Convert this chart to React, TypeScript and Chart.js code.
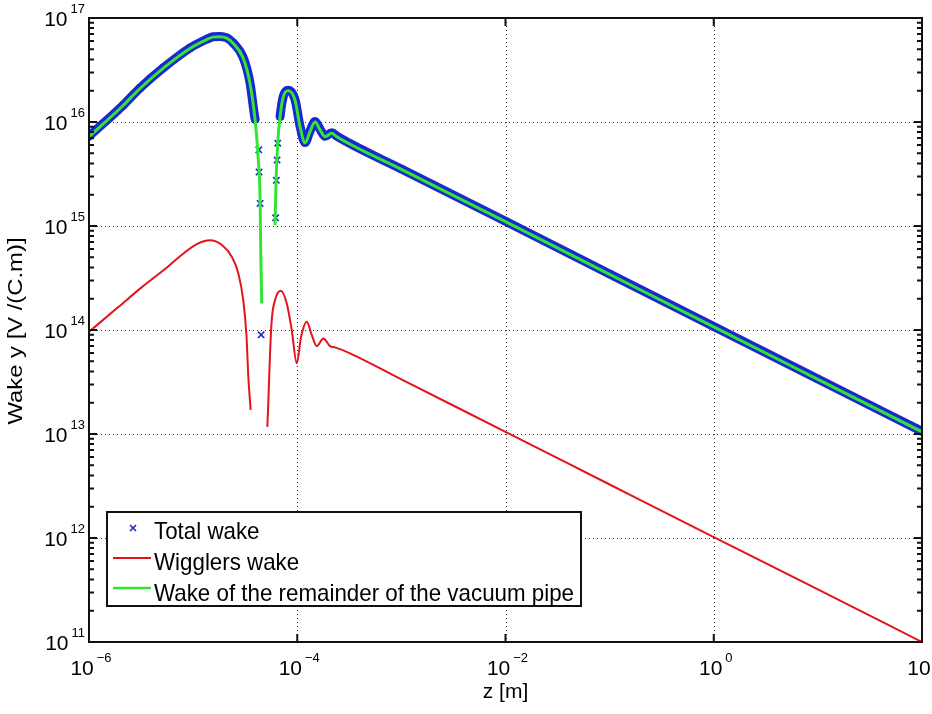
import React, { useEffect, useRef } from 'react';
import { Chart, registerables } from 'chart.js';

Chart.register(...registerables);

// ---- data (z in m, wake in V/(C.m)) ----
const zRemainder = [1.0e-6, 2.14e-6, 3.09e-6, 5.18e-6, 9.33e-6, 1.35e-5, 1.55e-5, 1.81e-5, 2.1e-5, 2.43e-5, 3.03e-5, 3.52e-5, 3.94e-5, 4.23e-5, 4.40e-5, 4.46e-5, 4.56e-5, 5.3e-5, 6.12e-5, 6.25e-5, 6.49e-5, 6.84e-5, 7.35e-5, 8.22e-5, 9.53e-5, 1.064e-4, 1.189e-4, 1.327e-4, 1.483e-4, 1.656e-4, 1.849e-4, 2.143e-4, 2.40e-4, 1e-3, 1e-2, 1e-1, 1, 10, 100];
const wRemainder = [7.2e15, 1.45e16, 2.1e16, 3.3e16, 5.1e16, 6.2e16, 6.55e16, 6.6e16, 6.4e16, 5.7e16, 4.1e16, 2.35e16, 1.05e16, 4.3e15, 1.78e15, 5.9e14, 1.8e14, null, 1.02e15, 2.57e15, 6.2e15, 1.12e16, 1.75e16, 2.0e16, 1.62e16, 9.0e15, 6.3e15, 8.1e15, 1.0e16, 8.4e15, 7.2e15, 7.8e15, 7.2e15, 3.5e15, 1.1e15, 3.43e14, 1.07e14, 3.35e13, 1.05e13];

const zWigglers = [1.0e-6, 1.91e-6, 3.20e-6, 5.37e-6, 8.36e-6, 1.12e-5, 1.45e-5, 1.88e-5, 2.35e-5, 2.72e-5, 3.03e-5, 3.25e-5, 3.39e-5, 3.57e-5, 4.4e-5, 5.16e-5, 5.27e-5, 5.48e-5, 5.69e-5, 6.12e-5, 6.93e-5, 7.92e-5, 8.85e-5, 9.89e-5, 1.089e-4, 1.233e-4, 1.377e-4, 1.538e-4, 1.782e-4, 2.065e-4, 2.307e-4, 3.21e-4, 1e-3, 1e-2, 1e-1, 1, 10, 100];
const wWigglers = [9.6e13, 1.66e14, 2.57e14, 3.86e14, 5.6e14, 6.8e14, 7.3e14, 6.6e14, 5.07e14, 3.5e14, 1.94e14, 9.0e13, 3.56e13, 1.7e13, null, 1.17e13, 1.97e13, 5.97e13, 1.25e14, 1.94e14, 2.39e14, 1.81e14, 1.0e14, 4.78e13, 8.6e13, 1.2e14, 8.96e13, 7.0e13, 8.3e13, 7.0e13, 6.8e13, 5.97e13, 3.35e13, 1.05e13, 3.27e12, 1.02e12, 3.2e11, 1.0e11];

const zTotal = [1.0e-6, 2.14e-6, 3.09e-6, 5.18e-6, 9.33e-6, 1.35e-5, 1.55e-5, 1.81e-5, 2.1e-5, 2.43e-5, 3.03e-5, 3.52e-5, 3.94e-5, 4.27e-5, 4.30e-5, 4.40e-5, 4.45e-5, 4.50e-5, 4.55e-5, 6.2e-5, 6.3e-5, 6.4e-5, 6.49e-5, 6.84e-5, 7.35e-5, 8.22e-5, 9.53e-5, 1.064e-4, 1.189e-4, 1.327e-4, 1.483e-4, 1.656e-4, 1.849e-4, 2.143e-4, 2.40e-4, 1e-3, 1e-2, 1e-1, 1, 10, 100];
const wTotal = [7.3e15, 1.46e16, 2.12e16, 3.32e16, 5.15e16, 6.25e16, 6.6e16, 6.65e16, 6.45e16, 5.75e16, 4.15e16, 2.37e16, 1.06e16, 5.4e15, 3.3e15, 1.65e15, null, 9.0e13, null, 1.2e15, 2.75e15, 4.3e15, 6.25e15, 1.13e16, 1.77e16, 2.02e16, 1.64e16, 9.1e15, 6.35e15, 8.2e15, 1.01e16, 8.5e15, 7.3e15, 7.9e15, 7.3e15, 3.53e15, 1.11e15, 3.46e14, 1.08e14, 3.38e13, 1.06e13];

const xTickExponents = [-6, -4, -2, 0, 2];
const yTickExponents = [11, 12, 13, 14, 15, 16, 17];
const xMin = 1e-6;
const xMax = 1e2;
const yMin = 1e11;
const yMax = 1e17;
const xTitle = 'z [m]';
const yTitle = 'Wake y [V /(C.m)]';
const legendLabels = ['Total wake', 'Wigglers wake', 'Wake of the remainder of the vacuum pipe'];

const BLUE = '#1a28d2';
const RED = '#e3141c';
const GREEN = '#30e632';
const FONT = '"Liberation Sans", Arial, Helvetica, sans-serif';

const toPoints = (zs: number[], ws: (number | null)[]) => zs.map((z, i) => ({ x: z, y: ws[i] }));

function drawPow(ctx: CanvasRenderingContext2D, exp: number, ax: number, cy: number, align: 'center' | 'right') {
  const base = '10';
  const sup = exp < 0 ? '\u2212' + Math.abs(exp) : String(exp);
  ctx.font = `21px ${FONT}`;
  const wb = ctx.measureText(base).width;
  ctx.font = `13px ${FONT}`;
  const ws = ctx.measureText(sup).width;
  const gap = 3;
  const total = wb + gap + ws;
  const left = align === 'center' ? ax - total / 2 : ax - total;
  ctx.textAlign = 'left';
  ctx.textBaseline = 'alphabetic';
  ctx.font = `21px ${FONT}`;
  ctx.fillText(base, left, cy + 7.5);
  ctx.font = `13px ${FONT}`;
  ctx.fillText(sup, left + wb + gap, cy - 5.5);
}

const decorPlugin = {
  id: 'matlabDecor',
  beforeDatasetsDraw(chart: any) {
    const { ctx, chartArea: a, scales } = chart;
    const x = scales.x;
    const y = scales.y;
    ctx.save();
    ctx.strokeStyle = '#333';
    ctx.lineWidth = 1;
    ctx.setLineDash([1, 3]);
    for (const e of xTickExponents) {
      const px = Math.round(x.getPixelForValue(Math.pow(10, e))) + 0.5;
      if (px <= a.left + 2 || px >= a.right - 2) continue;
      ctx.beginPath();
      ctx.moveTo(px, a.top);
      ctx.lineTo(px, a.bottom);
      ctx.stroke();
    }
    for (const e of yTickExponents) {
      const py = Math.round(y.getPixelForValue(Math.pow(10, e))) + 0.5;
      if (py <= a.top + 2 || py >= a.bottom - 2) continue;
      ctx.beginPath();
      ctx.moveTo(a.left, py);
      ctx.lineTo(a.right, py);
      ctx.stroke();
    }
    ctx.restore();
  },
  afterDraw(chart: any) {
    const { ctx, chartArea: a, scales } = chart;
    const x = scales.x;
    const y = scales.y;
    ctx.save();
    ctx.setLineDash([]);
    ctx.strokeStyle = '#111';
    ctx.fillStyle = '#111';
    // axes box
    ctx.lineWidth = 2;
    ctx.strokeRect(a.left, a.top, a.right - a.left, a.bottom - a.top);
    // ticks
    ctx.lineWidth = 2;
    const major = 8;
    const minor = 5;
    for (const e of xTickExponents) {
      const px = x.getPixelForValue(Math.pow(10, e));
      ctx.beginPath();
      ctx.moveTo(px, a.bottom);
      ctx.lineTo(px, a.bottom - major);
      ctx.moveTo(px, a.top);
      ctx.lineTo(px, a.top + major);
      ctx.stroke();
    }
    for (const e of yTickExponents) {
      const py = y.getPixelForValue(Math.pow(10, e));
      ctx.beginPath();
      ctx.moveTo(a.left, py);
      ctx.lineTo(a.left + major, py);
      ctx.moveTo(a.right, py);
      ctx.lineTo(a.right - major, py);
      ctx.stroke();
      if (e < yTickExponents[yTickExponents.length - 1]) {
        for (let m = 2; m <= 9; m++) {
          const pm = y.getPixelForValue(m * Math.pow(10, e));
          ctx.beginPath();
          ctx.moveTo(a.left, pm);
          ctx.lineTo(a.left + minor, pm);
          ctx.moveTo(a.right, pm);
          ctx.lineTo(a.right - minor, pm);
          ctx.stroke();
        }
      }
    }
    // tick labels
    ctx.fillStyle = '#000';
    for (const e of xTickExponents) {
      drawPow(ctx, e, x.getPixelForValue(Math.pow(10, e)) + 2, 667.5, 'center');
    }
    for (const e of yTickExponents) {
      drawPow(ctx, e, a.left - 4, y.getPixelForValue(Math.pow(10, e)), 'right');
    }
    // axis titles
    ctx.font = `21px ${FONT}`;
    ctx.textAlign = 'center';
    ctx.textBaseline = 'alphabetic';
    ctx.fillText(xTitle, (a.left + a.right) / 2, 698);
    ctx.save();
    ctx.translate(22, 331);
    ctx.rotate(-Math.PI / 2);
    const tw = ctx.measureText(yTitle).width;
    ctx.scale(187 / tw, 1);
    ctx.fillText(yTitle, 0, 0);
    ctx.restore();

    // legend
    const lx0 = 107, ly0 = 512, lx1 = 581, ly1 = 606;
    ctx.fillStyle = '#fff';
    ctx.fillRect(lx0, ly0, lx1 - lx0, ly1 - ly0);
    ctx.strokeStyle = '#111';
    ctx.lineWidth = 2;
    ctx.strokeRect(lx0, ly0, lx1 - lx0, ly1 - ly0);
    const rows = [528, 558, 588];
    const baselines = [539, 570, 601];
    ctx.strokeStyle = BLUE;
    ctx.lineWidth = 1.6;
    const mx = 133, my = rows[0], r = 3;
    ctx.beginPath();
    ctx.moveTo(mx - r, my - r);
    ctx.lineTo(mx + r, my + r);
    ctx.moveTo(mx + r, my - r);
    ctx.lineTo(mx - r, my + r);
    ctx.stroke();
    ctx.strokeStyle = RED;
    ctx.lineWidth = 2;
    ctx.beginPath();
    ctx.moveTo(113, rows[1]);
    ctx.lineTo(151, rows[1]);
    ctx.stroke();
    ctx.strokeStyle = GREEN;
    ctx.lineWidth = 2.5;
    ctx.beginPath();
    ctx.moveTo(113, rows[2]);
    ctx.lineTo(151, rows[2]);
    ctx.stroke();
    ctx.fillStyle = '#000';
    ctx.font = `24px ${FONT}`;
    ctx.textAlign = 'left';
    const longest = ctx.measureText(legendLabels[2]).width;
    const sx = 420 / longest;
    legendLabels.forEach((t, i) => {
      ctx.save();
      ctx.translate(154, baselines[i]);
      ctx.scale(sx, 1);
      ctx.fillText(t, 0, 0);
      ctx.restore();
    });
    ctx.restore();
  },
};

export default function App() {
  const ref = useRef<HTMLCanvasElement | null>(null);
  useEffect(() => {
    if (!ref.current) return;
    const chart = new Chart(ref.current, {
      type: 'line',
      data: {
        datasets: [
          {
            label: legendLabels[2],
            data: toPoints(zRemainder, wRemainder),
            borderColor: GREEN,
            backgroundColor: GREEN,
            borderWidth: 3,
            pointRadius: 0,
            spanGaps: false,
            order: 0,
          },
          {
            label: legendLabels[1],
            data: toPoints(zWigglers, wWigglers),
            borderColor: RED,
            backgroundColor: RED,
            borderWidth: 2,
            pointRadius: 0,
            spanGaps: false,
            order: 1,
          },
          {
            label: legendLabels[0],
            data: toPoints(zTotal, wTotal),
            borderColor: BLUE,
            backgroundColor: BLUE,
            borderWidth: 9,
            borderJoinStyle: 'round',
            borderCapStyle: 'round',
            pointStyle: 'crossRot',
            pointRadius: 4.5,
            pointBorderWidth: 1.6,
            pointBorderColor: BLUE,
            pointBackgroundColor: BLUE,
            spanGaps: false,
            order: 2,
            segment: {
              borderColor: (c: any) => {
                const dx = Math.abs(c.p1.x - c.p0.x);
                const dy = Math.abs(c.p1.y - c.p0.y);
                return dy > 8 * dx ? 'rgba(0,0,0,0)' : undefined;
              },
            },
          } as any,
        ],
      },
      options: {
        responsive: false,
        animation: false,
        events: [],
        layout: { padding: { top: 18, right: 10, left: 0, bottom: 0 } },
        elements: { line: { cubicInterpolationMode: 'monotone' } },
        plugins: {
          legend: { display: false },
          tooltip: { enabled: false },
          title: { display: false },
        },
        scales: {
          x: {
            type: 'logarithmic',
            min: xMin,
            max: xMax,
            ticks: { display: false },
            grid: { display: false },
            border: { display: false },
            afterFit: (s: any) => {
              s.height = 72;
            },
          },
          y: {
            type: 'logarithmic',
            min: yMin,
            max: yMax,
            ticks: { display: false },
            grid: { display: false },
            border: { display: false },
            afterFit: (s: any) => {
              s.width = 89;
            },
          },
        },
      } as any,
      plugins: [decorPlugin],
    });
    return () => chart.destroy();
  }, []);
  return (
    <div style={{ position: 'absolute', left: 0, top: 0, width: 932, height: 714, background: '#fff' }}>
      <canvas ref={ref} width={932} height={714} style={{ display: 'block' }} />
    </div>
  );
}
